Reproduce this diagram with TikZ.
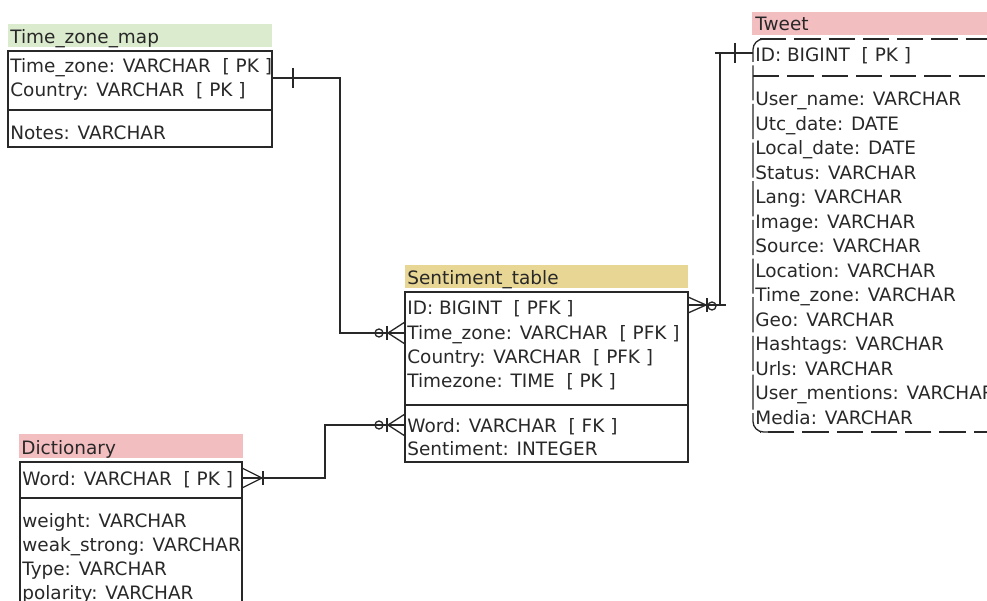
\documentclass[tikz,border=0pt]{standalone}
\usepackage{fontspec}
\setmainfont{DejaVu Sans}

\definecolor{hdrgreen}{RGB}{219,235,206}
\definecolor{hdrgold}{RGB}{232,214,148}
\definecolor{hdrpink}{RGB}{243,190,192}
\definecolor{inkgray}{RGB}{40,40,40}

\tikzset{
  field/.style={anchor=west, inner sep=0pt, text height=8pt, text depth=2.5pt,
    yshift=-1.6pt, font=\fontsize{10.5}{12}\selectfont, text=inkgray},
  tblbox/.style={draw=inkgray, line width=0.75pt},
  rel/.style={draw=inkgray, line width=0.75pt},
  tdash/.style={draw=inkgray, line width=0.75pt, dash pattern=on 15pt off 4.5pt},
}

\begin{document}
\begin{tikzpicture}[x=0.02cm, y=-0.02cm]
    \clip (0,0) rectangle (987,601);

    % Time_zone_map
    \fill[hdrgreen] (8,24) rectangle (272,47);
    \node[field] (tzm) at (10,36) {Time\_zone\_map};
    \draw[tblbox] (8,51) rectangle (272,147);
    \draw[tblbox] (8,110) -- (272,110);
    \node[field] (tzm-tz) at (10,65) {Time\_zone: VARCHAR\ \ [ PK ]};
    \node[field] (tzm-cty) at (10,89) {Country: VARCHAR\ \ [ PK ]};
    \node[field] (tzm-notes) at (10,132) {Notes: VARCHAR};

    % Sentiment_table
    \fill[hdrgold] (405,265) rectangle (688,288);
    \node[field] (st) at (407,277) {Sentiment\_table};
    \draw[tblbox] (405,292) rectangle (688,462);
    \draw[tblbox] (405,405) -- (688,405);
    \node[field] (st-id) at (407,307) {ID: BIGINT\ \ [ PFK ]};
    \node[field] (st-tz) at (407,332) {Time\_zone: VARCHAR\ \ [ PFK ]};
    \node[field] (st-cty) at (407,356) {Country: VARCHAR\ \ [ PFK ]};
    \node[field] (st-time) at (407,380) {Timezone: TIME\ \ [ PK ]};
    \node[field] (st-word) at (407,425) {Word: VARCHAR\ \ [ FK ]};
    \node[field] (st-sent) at (407,448) {Sentiment: INTEGER};

    % Dictionary
    \fill[hdrpink] (19,434) rectangle (243,458);
    \node[field] (dict) at (21,447) {Dictionary};
    \draw[tblbox] (20,462) rectangle (242,640);
    \draw[tblbox] (20,498) -- (242,498);
    \node[field] (dict-word) at (22,478) {Word: VARCHAR\ \ [ PK ]};
    \foreach \f [count=\i from 0] in {weight: VARCHAR, weak\_strong: VARCHAR,
        Type: VARCHAR, polarity: VARCHAR}
      \node[field] (dict-\i) at (22,520+24*\i) {\f};

    % Tweet
    \fill[hdrpink] (752,12) rectangle (1000,35);
    \node[field] (tw) at (755,23) {Tweet};
    \draw[tdash, rounded corners=6] (760,39) -- (1000,39) (1000,432) -- (760,432);
    \draw[draw=inkgray, line width=0.75pt, dash pattern=on 20pt off 2pt, rounded corners=6]
      (770,39) -- (753,39) -- (753,432) -- (770,432);
    \draw[tdash] (753,76) -- (1000,76);
    \node[field] (tw-id) at (755,54) {ID: BIGINT\ \ [ PK ]};
    \foreach \f [count=\i from 0] in {User\_name: VARCHAR, Utc\_date: DATE,
        Local\_date: DATE, Status: VARCHAR, Lang: VARCHAR, Image: VARCHAR,
        Source: VARCHAR, Location: VARCHAR, Time\_zone: VARCHAR, Geo: VARCHAR,
        Hashtags: VARCHAR, Urls: VARCHAR, User\_mentions: VARCHAR, Media: VARCHAR}
      \node[field] (tw-\i) at (755,98+24.5*\i) {\f};

    % Connection points
    \coordinate (tzm-out) at (272,78);
    \coordinate (st-in-tz) at (405,333);
    \coordinate (dict-out) at (242,478);
    \coordinate (st-in-word) at (405,425);
    \coordinate (st-out) at (688,305);
    \coordinate (tw-in) at (753,53);

    % Time_zone_map to Sentiment_table
    \draw[rel] (tzm-out) -- ++(68,0) |- (st-in-tz);
    \draw[rel] (tzm-out) ++(21,-10) -- ++(0,20);
    \draw[rel] (st-in-tz) ++(0,-11) -- ++(-17,11) -- ++(17,11);
    \draw[rel] (st-in-tz) ++(-18,-7) -- ++(0,14);
    \draw[rel] (st-in-tz) ++(-26,0) circle[radius=4];

    % Dictionary to Sentiment_table
    \draw[rel] (dict-out) -- ++(83,0) |- (st-in-word);
    \draw[rel] (dict-out) ++(0,-10) -- ++(20,10) -- ++(-20,10);
    \draw[rel] (dict-out) ++(21,-7) -- ++(0,14);
    \draw[rel] (st-in-word) ++(0,-11) -- ++(-17,11) -- ++(17,11);
    \draw[rel] (st-in-word) ++(-18,-7) -- ++(0,14);
    \draw[rel] (st-in-word) ++(-26,0) circle[radius=4];

    % Sentiment_table to Tweet
    \draw[rel] (tw-in) -- ++(-38,0);
    \draw[rel] (st-out) -- ++(38,0);
    \draw[rel] (tw-in) ++(-33,0) |- (st-out);
    \draw[rel] (tw-in) ++(-18,-10) -- ++(0,20);
    \draw[rel] (st-out) ++(0,-8) -- ++(18,8) -- ++(-18,8);
    \draw[rel] (st-out) ++(19,-7) -- ++(0,14);
    \draw[rel] (st-out) ++(24,1) circle[radius=4];
\end{tikzpicture}
\end{document}
